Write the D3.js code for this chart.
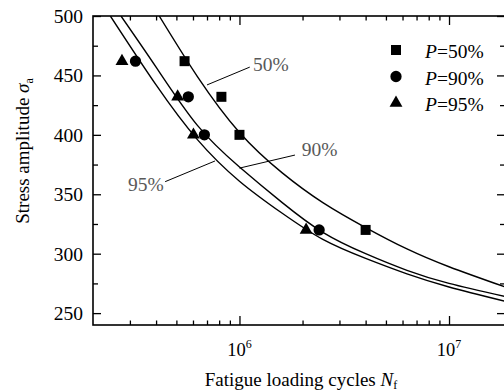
<!DOCTYPE html>
<html>
<head>
<meta charset="utf-8">
<script src="https://cdn.jsdelivr.net/npm/d3@7"></script>
<style>
  body { margin: 0; background: #fff; }
  svg { display: block; font-family: "Liberation Serif", "Times New Roman", serif; }
</style>
</head>
<body>
<div id="chart"></div>
<script>
// stress levels of the tests
const stressLevels = [462, 432, 400, 320];
// measured lives for each survival probability
const cycles50 = [5.47e5, 8.2e5, 1.0e6, 4.0e6];
const cycles90 = [3.19e5, 5.7e5, 6.8e5, 2.4e6];
const cycles95 = [2.75e5, 5.07e5, 6.03e5, 2.08e6];

// fitted P-S-N curves
const fit50N = [4.14e5, 6.3e5, 1e6, 1.6e6, 2.5e6, 4e6, 6.3e6, 1e7, 1.85e7];
const fit50S = [500, 449, 402, 368, 343, 322, 304, 289, 272];
const fit90N = [2.72e5, 4e5, 6.3e5, 1e6, 1.6e6, 2.5e6, 4e6, 6.3e6, 1e7, 1.85e7];
const fit90S = [500, 457, 408, 373, 343, 318, 300, 286, 275, 264];
const fit95N = [2.42e5, 4e5, 6.3e5, 1e6, 1.6e6, 2.5e6, 4e6, 6.3e6, 1e7, 1.85e7];
const fit95S = [500, 442, 396, 361, 334, 312, 296, 283, 272, 260];

// axis ticks
const xMajor = [1e6, 1e7];
const xMinor = [3e5, 4e5, 5e5, 6e5, 7e5, 8e5, 9e5, 2e6, 3e6, 4e6, 5e6, 6e6, 7e6, 8e6, 9e6];
const yMajor = [250, 300, 350, 400, 450, 500];
const yMinor = [275, 325, 375, 425, 475];

// curve annotations: label, leader start (on curve), leader end, text anchor point
const notes = [
  {text: "50%", from: [7.0e5, 442], to: [1.12e6, 457], at: [1.16e6, 453.5], anchor: "start"},
  {text: "90%", from: [1.0e6, 372], to: [1.84e6, 383], at: [1.98e6, 382], anchor: "start"},
  {text: "95%", from: [7.64e5, 378], to: [4.42e5, 360.6], at: [4.35e5, 353], anchor: "end"}
];

const width = 504, height = 392;
const mLeft = 93, mRight = 505, mTop = 16, mBottom = 325;

const x = d3.scaleLog().domain([2e5, 1.85e7]).range([mLeft, mRight]);
const y = d3.scaleLinear().domain([240, 500]).range([mBottom, mTop]);

const svg = d3.select("#chart").append("svg")
    .attr("width", width)
    .attr("height", height)
    .attr("viewBox", [0, 0, width, height]);

svg.append("clipPath").attr("id", "plot")
  .append("rect")
    .attr("x", mLeft).attr("y", mTop)
    .attr("width", mRight - mLeft).attr("height", mBottom - mTop);

// ticks (all pointing inward)
const tickAxis = (g, axis) => g.call(axis).call(g => g.select(".domain").remove())
    .call(g => g.selectAll(".tick line").attr("stroke", "#000").attr("stroke-width", 1.3));

svg.append("g").attr("transform", `translate(0,${mBottom})`)
    .call(tickAxis, d3.axisBottom(x).tickValues(xMinor).tickSize(-4.5).tickFormat(""));
svg.append("g").attr("transform", `translate(0,${mBottom})`)
    .call(tickAxis, d3.axisBottom(x).tickValues(xMajor).tickSize(-9).tickFormat(""));
svg.append("g").attr("transform", `translate(0,${mTop})`)
    .call(tickAxis, d3.axisTop(x).tickValues(xMinor).tickSize(-4.5).tickFormat(""));
svg.append("g").attr("transform", `translate(0,${mTop})`)
    .call(tickAxis, d3.axisTop(x).tickValues(xMajor).tickSize(-9).tickFormat(""));
svg.append("g").attr("transform", `translate(${mLeft},0)`)
    .call(tickAxis, d3.axisLeft(y).tickValues(yMinor).tickSize(-5).tickFormat(""));
svg.append("g").attr("transform", `translate(${mLeft},0)`)
    .call(tickAxis, d3.axisLeft(y).tickValues(yMajor).tickSize(-8).tickFormat(""));
svg.append("g").attr("transform", `translate(${mRight},0)`)
    .call(tickAxis, d3.axisRight(y).tickValues(yMinor).tickSize(-5).tickFormat(""));
svg.append("g").attr("transform", `translate(${mRight},0)`)
    .call(tickAxis, d3.axisRight(y).tickValues(yMajor).tickSize(-8).tickFormat(""));

// frame
svg.append("rect")
    .attr("x", mLeft).attr("y", mTop)
    .attr("width", mRight - mLeft).attr("height", mBottom - mTop)
    .attr("fill", "none").attr("stroke", "#000").attr("stroke-width", 1.6);

// tick labels
svg.append("g").selectAll("text").data(yMajor).join("text")
    .attr("x", mLeft - 10)
    .attr("y", d => y(d))
    .attr("dy", "0.35em")
    .attr("text-anchor", "end")
    .attr("font-size", 19.5)
    .text(d => d);

const xl = svg.append("g").selectAll("text").data(xMajor).join("text")
    .attr("x", d => x(d))
    .attr("y", 356)
    .attr("text-anchor", "middle")
    .attr("font-size", 18.5);
xl.append("tspan").text("10");
xl.append("tspan").attr("dy", -8).attr("font-size", 12).text(d => Math.round(Math.log10(d)));

// axis titles
const xt = svg.append("text")
    .attr("x", 301).attr("y", 386)
    .attr("text-anchor", "middle")
    .attr("font-size", 19);
xt.append("tspan").text("Fatigue loading cycles ");
xt.append("tspan").attr("font-style", "italic").text("N");
xt.append("tspan").attr("dy", 3).attr("font-size", 12).text("f");

const yt = svg.append("text")
    .attr("transform", "translate(29,151) rotate(-90)")
    .attr("text-anchor", "middle")
    .attr("font-size", 19);
yt.append("tspan").text("Stress amplitude ");
yt.append("tspan").attr("font-style", "italic").text("σ");
yt.append("tspan").attr("dy", 4).attr("font-size", 12).text("a");

// fitted curves
const line = d3.line()
    .x(d => x(d[0]))
    .y(d => y(d[1]))
    .curve(d3.curveNatural);

const fits = [d3.zip(fit50N, fit50S), d3.zip(fit90N, fit90S), d3.zip(fit95N, fit95S)];
svg.append("g")
    .attr("clip-path", "url(#plot)")
    .attr("fill", "none")
    .attr("stroke", "#000")
    .attr("stroke-width", 1.4)
  .selectAll("path").data(fits).join("path")
    .attr("d", line);

// annotations
svg.append("g").attr("stroke", "#000").attr("stroke-width", 1)
  .selectAll("line").data(notes).join("line")
    .attr("x1", d => x(d.from[0])).attr("y1", d => y(d.from[1]))
    .attr("x2", d => x(d.to[0])).attr("y2", d => y(d.to[1]));
svg.append("g").selectAll("text").data(notes).join("text")
    .attr("x", d => x(d.at[0]))
    .attr("y", d => y(d.at[1]))
    .attr("text-anchor", d => d.anchor)
    .attr("font-size", 19.5)
    .attr("fill", "#595959")
    .text(d => d.text);

// test points
const series = [
  {label: "50%", cycles: cycles50, symbol: d3.symbolSquare, size: 100},
  {label: "90%", cycles: cycles90, symbol: d3.symbolCircle, size: 100},
  {label: "95%", cycles: cycles95, symbol: d3.symbolTriangle, size: 72}
];

series.forEach(s => {
  svg.append("g").selectAll("path")
    .data(d3.zip(s.cycles, stressLevels))
    .join("path")
      .attr("transform", d => `translate(${x(d[0])},${y(d[1])})`)
      .attr("d", d3.symbol(s.symbol, s.size))
      .attr("fill", "#000");
});

// legend
const legend = svg.append("g")
  .selectAll("g").data(series).join("g")
    .attr("transform", (d, i) => `translate(396,${50 + i * 26.5})`);
legend.append("path")
    .attr("d", d => d3.symbol(d.symbol, d.size)())
    .attr("fill", "#000");
const lt = legend.append("text")
    .attr("x", 29)
    .attr("y", 8)
    .attr("font-size", 19.5);
lt.append("tspan").attr("font-style", "italic").text("P");
lt.append("tspan").text(d => "=" + d.label);
</script>
</body>
</html>
